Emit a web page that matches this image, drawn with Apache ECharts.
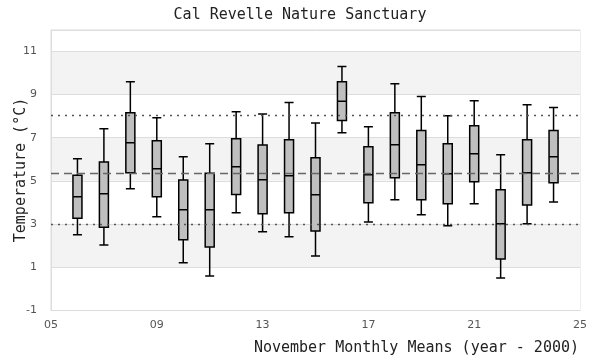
<!DOCTYPE html>
<html>
<head>
<meta charset="utf-8">
<script src="https://cdn.jsdelivr.net/npm/echarts@6/dist/echarts.min.js"></script>
<style>html,body{margin:0;padding:0;background:#fff}#c{width:600px;height:360px}</style>
</head>
<body>
<div id="c"></div>
<script>
const years = [6,7,8,9,10,11,12,13,14,15,16,17,18,19,20,21,22,23,24];
const mins    = [2.49,2.02,4.63,3.33,1.19,0.58,3.51,2.63,2.40,1.51,7.23,3.09,4.12,3.42,2.91,3.93,0.49,3.00,4.02];
const q1s     = [3.26,2.84,5.37,4.26,2.26,1.93,4.36,3.47,3.51,2.67,7.80,3.98,5.14,4.12,3.93,4.95,1.37,3.88,4.91];
const medians = [4.26,4.40,6.77,5.56,3.65,3.65,5.65,5.05,5.23,4.35,8.69,5.28,6.67,5.74,5.33,6.26,3.00,5.37,6.12];
const q3s     = [5.26,5.87,8.16,6.86,5.03,5.35,6.95,6.66,6.91,6.07,9.60,6.58,8.16,7.33,6.72,7.56,4.58,6.91,7.33];
const maxs    = [6.02,7.42,9.60,7.93,6.12,6.72,8.21,8.10,8.63,7.68,10.30,7.51,9.51,8.91,8.02,8.72,6.21,8.53,8.40];
const refDotted = [8.03, 3.00];
const refDashed = [5.33];

const boxData = years.map((y,i)=>[y, mins[i], q1s[i], medians[i], q3s[i], maxs[i]]);
const mono = '"DejaVu Sans Mono", monospace';

const chart = echarts.init(document.getElementById('c'), null, {renderer:'canvas'});
chart.setOption({
  animation:false,
  title:[
    {text:'Cal Revelle Nature Sanctuary', left:'center', top:3,
     textStyle:{fontFamily:mono, fontSize:15, fontWeight:'normal', color:'#222'}},
    {text:'November Monthly Means (year - 2000)', right:16, top:336,
     textStyle:{fontFamily:mono, fontSize:15, fontWeight:'normal', color:'#222'}}
  ],
  grid:{left:51, right:20, top:30, bottom:50, show:true, borderColor:'#ddd', borderWidth:1,
        containLabel:false, outerBoundsMode:'none'},
  xAxis:{
    type:'value', min:5, max:25, interval:4,
    axisLine:{show:true, onZero:false, lineStyle:{color:'#ddd'}},
    axisTick:{show:false},
    splitLine:{show:false},
    axisLabel:{color:'#555', fontSize:11, fontFamily:'DejaVu Sans', margin:10,
      formatter:v=>String(v).padStart(2,'0')}
  },
  yAxis:{
    type:'value', min:-1, max:12, interval:2,
    name:'Temperature (°C)', nameLocation:'middle', nameGap:22, nameMoveOverlap:false,
    nameTextStyle:{fontFamily:mono, fontSize:15, color:'#222'},
    axisLine:{show:true, onZero:false, lineStyle:{color:'#ddd'}},
    axisTick:{show:false},
    splitLine:{show:true, lineStyle:{color:'#ddd'}},
    splitArea:{show:true, areaStyle:{color:['#ffffff','#f3f3f3']}},
    axisLabel:{color:'#555', fontSize:11, fontFamily:'DejaVu Sans', margin:14,
      formatter:v=> (v===12 ? '' : String(v))}
  },
  series:[{
    type:'boxplot',
    data:boxData,
    boxWidth:[9,9],
    itemStyle:{color:'#bfbfbf', borderColor:'#000', borderWidth:1.5},
    markLine:{
      silent:true, symbol:'none', label:{show:false},
      data:[
        ...refDotted.map(v=>({yAxis:v, lineStyle:{type:[2,5], color:'#555', width:1.3}})),
        ...refDashed.map(v=>({yAxis:v, lineStyle:{type:[8,5], color:'#666', width:1.3}}))
      ]
    }
  }]
});
</script>
</body>
</html>
